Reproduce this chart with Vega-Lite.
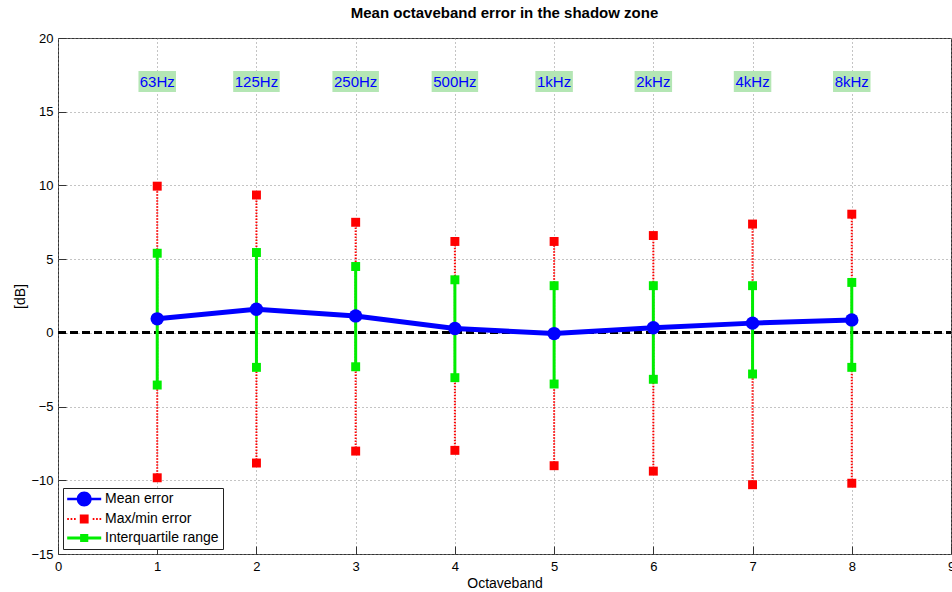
{
  "$schema": "https://vega.github.io/schema/vega-lite/v6.json",
  "width": 893,
  "height": 516,
  "autosize": {"type": "none"},
  "padding": {"left": 58, "top": 38, "right": 1, "bottom": 38},
  "background": "white",
  "title": {"text": "Mean octaveband error in the shadow zone", "font": "Liberation Sans", "fontSize": 15, "fontWeight": "bold", "color": "black", "offset": 11, "anchor": "middle"},
  "config": {
    "view": {"stroke": "#333", "strokeWidth": 1},
    "axis": {
      "labelFont": "Liberation Sans", "labelFontSize": 13, "labelColor": "black", "labelFlush": false, "labelOverlap": false,
      "titleFont": "Liberation Sans", "titleFontSize": 14, "titleFontWeight": "normal", "titleColor": "black",
      "grid": true, "gridDash": [1, 3], "gridColor": "#888", "gridWidth": 1,
      "domain": false, "tickColor": "#333", "tickSize": -8
    }
  },
  "datasets": {
    "bands": [
      {"band": 1, "label": "63Hz", "mean": 0.95, "q1": -3.54, "q3": 5.4, "min": -9.83, "max": 9.95},
      {"band": 2, "label": "125Hz", "mean": 1.6, "q1": -2.34, "q3": 5.45, "min": -8.83, "max": 9.35},
      {"band": 3, "label": "250Hz", "mean": 1.15, "q1": -2.3, "q3": 4.5, "min": -8.02, "max": 7.5},
      {"band": 4, "label": "500Hz", "mean": 0.3, "q1": -3.04, "q3": 3.6, "min": -7.97, "max": 6.2},
      {"band": 5, "label": "1kHz", "mean": -0.05, "q1": -3.47, "q3": 3.2, "min": -9.01, "max": 6.2},
      {"band": 6, "label": "2kHz", "mean": 0.35, "q1": -3.15, "q3": 3.2, "min": -9.38, "max": 6.6},
      {"band": 7, "label": "4kHz", "mean": 0.66, "q1": -2.79, "q3": 3.2, "min": -10.3, "max": 7.38},
      {"band": 8, "label": "8kHz", "mean": 0.88, "q1": -2.34, "q3": 3.42, "min": -10.2, "max": 8.05}
    ]
  },
  "data": {"name": "bands"},
  "encoding": {
    "x": {"field": "band", "type": "quantitative", "title": "Octaveband",
      "scale": {"domain": [0, 9], "nice": false, "zero": false, "padding": 0},
      "axis": {"values": [0, 1, 2, 3, 4, 5, 6, 7, 8, 9], "labelPadding": 14, "titlePadding": 3, "format": "d", "labelFlush": false}}
  },
  "layer": [
    {
      "mark": {"type": "rule", "color": "black", "strokeWidth": 2.5, "strokeDash": [8, 4]},
      "encoding": {
        "x": {"datum": 0},
        "x2": {"datum": 9},
        "y": {"datum": 0, "type": "quantitative", "title": "[dB]",
          "scale": {"domain": [-15, 20], "nice": false, "zero": false, "padding": 0},
          "axis": {"title": "[dB]", "values": [-15, -10, -5, 0, 5, 10, 15, 20], "labelPadding": 13, "titlePadding": 3, "labelFlush": false}}
      }
    },
    {
      "mark": {"type": "rule", "color": "#ff0000", "strokeWidth": 2, "strokeDash": [1.5, 1.5]},
      "encoding": {"y": {"field": "min", "type": "quantitative", "title": "[dB]"}, "y2": {"field": "max"}}
    },
    {
      "mark": {"type": "rule", "color": "#00ee00", "strokeWidth": 3},
      "encoding": {"y": {"field": "q1", "type": "quantitative", "title": "[dB]"}, "y2": {"field": "q3"}}
    },
    {
      "mark": {"type": "point", "shape": "square", "filled": true, "size": 80, "color": "#ff0000", "opacity": 1},
      "encoding": {"y": {"field": "max", "type": "quantitative", "title": "[dB]"}}
    },
    {
      "mark": {"type": "point", "shape": "square", "filled": true, "size": 80, "color": "#ff0000", "opacity": 1},
      "encoding": {"y": {"field": "min", "type": "quantitative", "title": "[dB]"}}
    },
    {
      "mark": {"type": "point", "shape": "square", "filled": true, "size": 80, "color": "#00ee00", "opacity": 1},
      "encoding": {"y": {"field": "q3", "type": "quantitative", "title": "[dB]"}}
    },
    {
      "mark": {"type": "point", "shape": "square", "filled": true, "size": 80, "color": "#00ee00", "opacity": 1},
      "encoding": {"y": {"field": "q1", "type": "quantitative", "title": "[dB]"}}
    },
    {
      "mark": {"type": "line", "color": "#0000ff", "strokeWidth": 5, "point": {"filled": true, "size": 180, "color": "#0000ff", "opacity": 1}},
      "encoding": {"y": {"field": "mean", "type": "quantitative", "title": "[dB]"}}
    },
    {
      "mark": {"type": "bar", "color": "#b4e6b4", "width": {"expr": "9*length(datum.label)+1.5"}},
      "encoding": {"y": {"datum": 16.33}, "y2": {"datum": 17.76}}
    },
    {
      "mark": {"type": "text", "color": "#0000ff", "font": "Liberation Sans", "fontSize": 15, "baseline": "middle", "align": "center"},
      "encoding": {"y": {"datum": 17.04}, "text": {"field": "label"}}
    },
    {
      "data": {"values": [{"series": "Mean error"}, {"series": "Max/min error"}, {"series": "Interquartile range"}]},
      "mark": {"type": "point", "filled": true, "clip": true, "opacity": 1, "size": 185},
      "encoding": {
        "x": {"datum": 1},
        "y": {"datum": 100},
        "color": {"field": "series", "type": "nominal",
          "scale": {"domain": ["Mean error", "Max/min error", "Interquartile range"], "range": ["#0000ff", "#ff0000", "#00ee00"]},
          "legend": {"title": null, "orient": "bottom-left", "offset": 5, "strokeColor": "#222", "fillColor": "white", "padding": 4, "symbolSize": 185, "symbolStrokeWidth": 0, "symbolOpacity": 1, "labelFont": "Liberation Sans", "labelFontSize": 14, "labelColor": "black", "labelOffset": 24, "rowPadding": 5}},
        "shape": {"field": "series", "type": "nominal",
          "scale": {"domain": ["Mean error", "Max/min error", "Interquartile range"],
            "range": [
              "M-1,-0.2H4V0.2H-1Z M2.6,0 A1.1,1.1 0 1 1 0.4,0 A1.1,1.1 0 1 1 2.6,0Z",
              "M-1,-0.15h0.25v0.3h-0.25Z M-0.5,-0.15h0.25v0.3h-0.25Z M0,-0.15h0.25v0.3h-0.25Z M2.75,-0.15h0.25v0.3h-0.25Z M3.25,-0.15h0.25v0.3h-0.25Z M3.75,-0.15h0.25v0.3h-0.25Z M0.85,-0.65H2.15V0.65H0.85Z",
              "M-1,-0.22H4V0.22H-1Z M0.9,-0.6H2.1V0.6H0.9Z"
            ]},
          "legend": {"title": null, "orient": "bottom-left", "offset": 5, "strokeColor": "#222", "fillColor": "white", "padding": 4, "symbolSize": 185, "symbolStrokeWidth": 0, "symbolOpacity": 1, "labelFont": "Liberation Sans", "labelFontSize": 14, "labelColor": "black", "labelOffset": 24, "rowPadding": 5}}
      }
    }
  ]
}
